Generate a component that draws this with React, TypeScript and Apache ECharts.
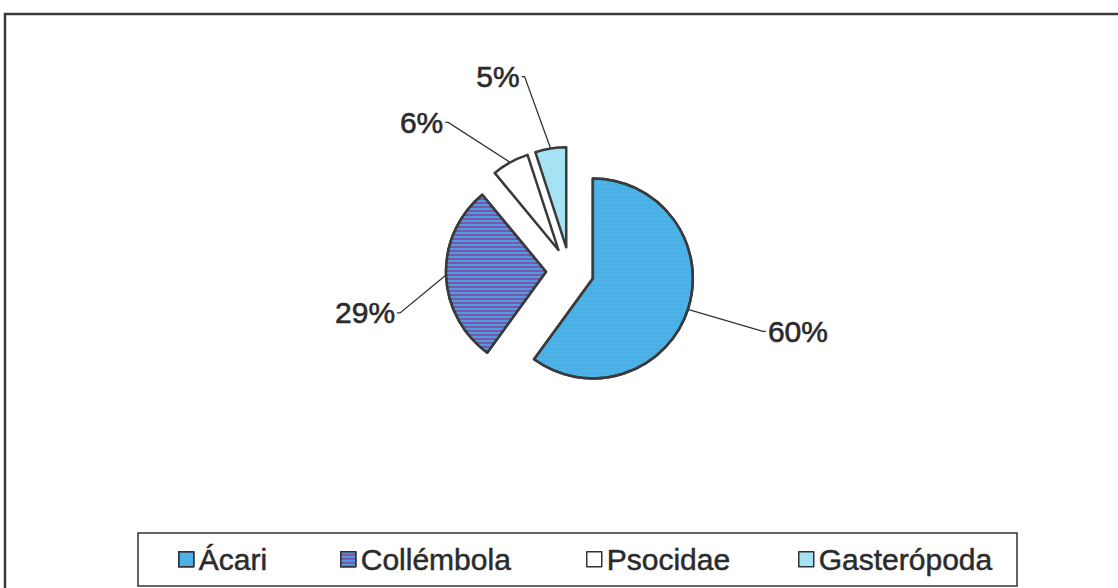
import React, { useEffect, useRef } from 'react';
import * as echarts from 'echarts';

// ---- data ----
const categories = ['Ácari', 'Collémbola', 'Psocidae', 'Gasterópoda'];
const values = [60, 29, 6, 5];

// ---- styling ----
const sliceColors = ['#46b6ea', '#7c56a8', '#ffffff', '#a4e2f4'];
const stripeColors = ['rgba(110,150,215,0.3)', '#4f9be0', '', ''];
// leader-line corner offsets from each slice's outer mid-point (label placement style)
const leaderCorners = [
  [75, 22],
  [-46, 38],
  [-62, -40],
  [-26, -72],
];
const legendLeft = [178, 340, 586, 798];

const CX = 570;
const CY = 271;
const R = 100;
const EXPLODE = 24;
const FONT = '"Liberation Sans", Arial, sans-serif';
const TEXT_COLOR = '#2b2b2b';
const BORDER = '#3a3a3a';

function buildOption() {
  const total = values.reduce((a, b) => a + b, 0);
  let cum = 0;
  const mids = values.map((v) => {
    const m = ((cum + v / 2) / total) * 2 * Math.PI;
    cum += v;
    return m;
  });

  const series = categories.map((name, i) => {
    const m = mids[i];
    const center = [CX + EXPLODE * Math.sin(m), CY - EXPLODE * Math.cos(m)];
    const visibleStyle: any = {
      color: sliceColors[i],
      borderColor: BORDER,
      borderWidth: 2.5,
    };
    if (stripeColors[i]) {
      visibleStyle.decal = {
        symbol: 'rect',
        symbolSize: 1,
        dashArrayX: [10, 0],
        dashArrayY: [2, 2],
        color: stripeColors[i],
        rotation: 0,
      };
    }
    return {
      type: 'pie',
      silent: true,
      radius: R,
      center,
      startAngle: 90,
      clockwise: true,
      avoidLabelOverlap: false,
      percentPrecision: 0,
      emphasis: { disabled: true },
      label: {
        show: true,
        formatter: '{d}%',
        fontSize: 30,
        color: TEXT_COLOR,
        fontFamily: FONT,
        textBorderColor: TEXT_COLOR,
        textBorderWidth: 0.6,
      },
      labelLine: { show: true, lineStyle: { color: '#333', width: 1.3 } },
      labelLayout: (p: any) => {
        if (p.dataIndex !== i || !p.labelLinePoints) return {};
        const s = p.labelLinePoints[0];
        const [dx, dy] = leaderCorners[i];
        const ex = s[0] + dx;
        const ey = s[1] + dy;
        const right = dx > 0;
        const hx = ex + (right ? 3 : -3);
        return {
          x: right ? hx + 2 : hx - 2,
          y: ey,
          align: right ? 'left' : 'right',
          verticalAlign: 'middle',
          labelLinePoints: [s, [ex, ey], [hx, ey]],
        };
      },
      data: categories.map((n, j) =>
        j === i
          ? { name: n, value: values[j], itemStyle: visibleStyle }
          : {
              name: `__hidden_${i}_${j}`,
              value: values[j],
              itemStyle: { color: 'rgba(0,0,0,0)', borderWidth: 0 },
              label: { show: false },
              labelLine: { show: false },
            }
      ),
    };
  });

  const legend = categories.map((n, i) => ({
    data: [n],
    left: legendLeft[i],
    top: 544,
    padding: 0,
    itemWidth: 15,
    itemHeight: 15,
    itemGap: 0,
    icon: 'rect',
    selectedMode: false,
    itemStyle: { borderColor: '#333', borderWidth: 1.5 },
    textStyle: {
      fontSize: 30,
      color: TEXT_COLOR,
      fontFamily: FONT,
      textBorderColor: TEXT_COLOR,
      textBorderWidth: 0.5,
    },
  }));

  return {
    animation: false,
    backgroundColor: '#ffffff',
    legend,
    graphic: [
      {
        type: 'rect',
        silent: true,
        z: -10,
        shape: { x: 5, y: 14, width: 1130, height: 600 },
        style: { fill: 'none', stroke: BORDER, lineWidth: 2.5 },
      },
      {
        type: 'rect',
        silent: true,
        z: -10,
        shape: { x: 138, y: 533, width: 879, height: 53 },
        style: { fill: 'none', stroke: '#333', lineWidth: 1.5 },
      },
    ],
    series,
  };
}

export default function App() {
  const ref = useRef<HTMLDivElement>(null);
  useEffect(() => {
    if (!ref.current) return;
    const chart = echarts.init(ref.current, undefined, { renderer: 'svg' });
    chart.setOption(buildOption() as any);
    return () => chart.dispose();
  }, []);
  return (
    <div
      ref={ref}
      style={{ position: 'fixed', left: 0, top: 0, width: 1118, height: 588, background: '#fff' }}
    />
  );
}
